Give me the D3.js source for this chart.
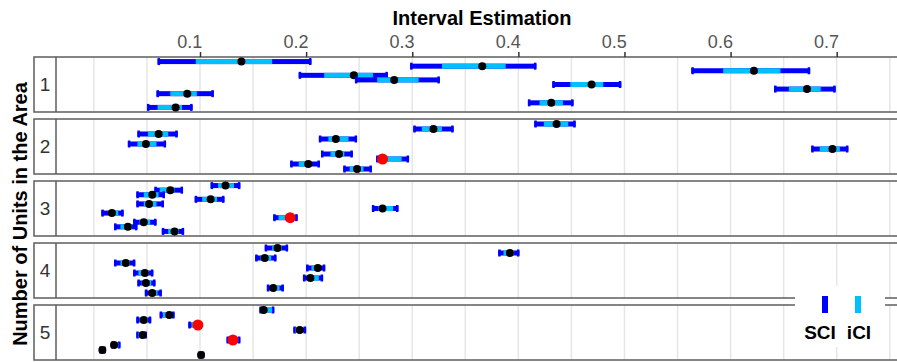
<!DOCTYPE html>
<html>
<head>
<meta charset="utf-8">
<script src="https://cdn.jsdelivr.net/npm/d3@7"></script>
<style>
  body { margin: 0; background: #fff; }
  text { font-family: "Liberation Sans", Arial, Helvetica, sans-serif; }
</style>
</head>
<body>
<script>
// number of units in the area (one panel per value) and row slots in each panel
var unitCounts = [1, 2, 3, 4, 5];
var slotsPerPanel = [11, 10, 11, 10, 10];
var tickValues = [0.1, 0.2, 0.3, 0.4, 0.5, 0.6, 0.7];
var legendLabels = ["SCI", "iCI"];

// one entry per interval
var panelOf = [1,1,1,1,1,1,1,1,1,1,
               2,2,2,2,2,2,2,2,2,2,
               3,3,3,3,3,3,3,3,3,3,3,
               4,4,4,4,4,4,4,4,4,4,
               5,5,5,5,5,5,5,5,5,5];
var rowSlot = [1,2,3,4,5,6,7,8,10,11,
               1,2,3,4,5,6,7,8,9,10,
               1,2,3,4,5,6,7,8,9,10,11,
               1,2,3,4,5,6,7,8,9,10,
               1,2,3,4,5,6,7,8,9,10];
var estimate = [0.139,0.366,0.622,0.245,0.283,0.469,0.672,0.088,0.431,0.077,
                0.436,0.320,0.061,0.228,0.049,0.696,0.231,0.272,0.202,0.248,
                0.124,0.072,0.055,0.110,0.052,0.272,0.017,0.185,0.047,0.032,0.076,
                0.173,0.392,0.161,0.030,0.211,0.048,0.204,0.049,0.169,0.055,
                0.160,0.071,0.047,0.098,0.194,0.046,0.131,0.019,0.008,0.101];
var sciLow = [0.060,0.298,0.563,0.193,0.246,0.432,0.641,0.059,0.409,0.050,
              0.415,0.301,0.041,0.212,0.032,0.676,0.214,0.266,0.185,0.235,
              0.110,0.057,0.040,0.095,0.040,0.262,0.007,0.169,0.037,0.019,0.064,
              0.161,0.381,0.152,0.019,0.200,0.037,0.197,0.041,0.163,0.048,
              0.156,0.062,0.040,0.089,0.188,0.040,0.125,0.016,0.005,0.098];
var sciHigh = [0.205,0.417,0.675,0.277,0.326,0.497,0.699,0.113,0.452,0.093,
               0.454,0.339,0.079,0.248,0.068,0.711,0.244,0.297,0.213,0.262,
               0.138,0.084,0.067,0.123,0.066,0.287,0.028,0.192,0.059,0.041,0.085,
               0.183,0.401,0.172,0.039,0.218,0.056,0.216,0.058,0.179,0.064,
               0.170,0.076,0.054,0.100,0.200,0.050,0.138,0.025,0.011,0.104];
var iciLow = [0.096,0.328,0.593,0.217,0.267,0.449,0.655,0.072,0.420,0.060,
              0.424,0.309,0.051,0.221,0.041,0.684,0.223,0.270,0.193,0.241,
              0.117,0.062,0.047,0.102,0.047,0.268,0.014,0.174,0.043,0.025,0.070,
              0.168,0.386,0.157,0.025,0.205,0.042,0.202,0.045,0.167,0.052,
              0.158,0.065,0.043,0.092,0.190,0.042,0.128,0.017,0.006,0.099];
var iciHigh = [0.168,0.388,0.647,0.263,0.306,0.480,0.685,0.097,0.442,0.083,
               0.447,0.328,0.070,0.240,0.059,0.703,0.236,0.290,0.205,0.254,
               0.132,0.076,0.061,0.116,0.059,0.282,0.023,0.182,0.053,0.036,0.080,
               0.177,0.396,0.167,0.034,0.214,0.052,0.212,0.054,0.175,0.060,
               0.168,0.073,0.051,0.098,0.197,0.048,0.136,0.023,0.010,0.102];
var flagged = [0,0,0,0,0,0,0,0,0,0,
               0,0,0,0,0,0,0,1,0,0,
               0,0,0,0,0,0,0,1,0,0,0,
               0,0,0,0,0,0,0,0,0,0,
               0,0,0,1,0,0,1,0,0,0];

var w = 897, h = 362;
var panelTop = 57, panelH = 55, panelGap = 7;
var frameLeft = 34, divider = 56;
var sciColor = "#0000ff", iciColor = "#00bfff";

var svg = d3.select("body").append("svg")
    .attr("width", w)
    .attr("height", h);

var x = d3.scaleLinear().domain([0, 0.7]).range([93.9, 836.7]);

// build the interval records from the arrays
var intervals = estimate.map(function(d, i) {
  return {panel: panelOf[i], slot: rowSlot[i], est: d,
          sLo: sciLow[i], sHi: sciHigh[i], iLo: iciLow[i], iHi: iciHigh[i],
          red: flagged[i] === 1};
});

// y scale per panel
var yScales = unitCounts.map(function(u, i) {
  var top = panelTop + i * (panelH + panelGap);
  return d3.scaleLinear().domain([0, slotsPerPanel[i] + 1]).range([top, top + panelH]);
});

var gridVals = d3.range(0, 0.76, 0.05);

unitCounts.forEach(function(u, i) {
  var top = panelTop + i * (panelH + panelGap);
  var g = svg.append("g").attr("class", "panel");

  g.selectAll("line.grid")
    .data(gridVals)
    .enter()
    .append("line")
    .attr("class", "grid")
    .attr("x1", function(d) { return x(d); })
    .attr("x2", function(d) { return x(d); })
    .attr("y1", top)
    .attr("y2", top + panelH)
    .attr("stroke", "#e6e6e6")
    .attr("stroke-width", 1.5);

  g.append("rect")
    .attr("x", frameLeft)
    .attr("y", top)
    .attr("width", 900)
    .attr("height", panelH)
    .attr("fill", "none")
    .attr("stroke", "#5e5e5e")
    .attr("stroke-width", 1.5);

  g.append("line")
    .attr("x1", divider).attr("x2", divider)
    .attr("y1", top).attr("y2", top + panelH)
    .attr("stroke", "#5e5e5e")
    .attr("stroke-width", 1.5);

  g.append("text")
    .attr("x", 45)
    .attr("y", top + panelH / 2)
    .attr("dy", "0.35em")
    .attr("text-anchor", "middle")
    .attr("font-size", 19)
    .attr("fill", "#333")
    .text(u);
});

// top axis
var axis = svg.append("g")
    .attr("transform", "translate(0," + panelTop + ")")
    .call(d3.axisTop(x).tickValues(tickValues).tickFormat(d3.format(".1f"))
          .tickSize(5).tickPadding(4));
axis.select(".domain").remove();
axis.selectAll(".tick line").attr("stroke", "#333").attr("stroke-width", 1.5);
axis.selectAll(".tick text")
    .attr("font-family", "Liberation Sans, Arial, sans-serif")
    .attr("font-size", 18)
    .attr("fill", "#555")
    .attr("text-anchor", "end")
    .attr("dx", "0.1em");

// intervals
var marks = svg.selectAll("g.interval")
    .data(intervals)
    .enter()
    .append("g")
    .attr("class", "interval")
    .attr("transform", function(d) {
      return "translate(0," + yScales[d.panel - 1](d.slot) + ")";
    });

marks.append("rect")
    .attr("x", function(d) { return x(d.sLo); })
    .attr("y", -2.5)
    .attr("width", function(d) { return x(d.sHi) - x(d.sLo); })
    .attr("height", 5)
    .attr("fill", sciColor);

marks.selectAll("rect.cap")
    .data(function(d) { return [d.sLo, d.sHi]; })
    .enter()
    .append("rect")
    .attr("class", "cap")
    .attr("x", function(v, j) { return j === 0 ? x(v) : x(v) - 2.5; })
    .attr("y", -3.5)
    .attr("width", 2.5)
    .attr("height", 7)
    .attr("fill", sciColor);

marks.append("rect")
    .attr("x", function(d) { return x(d.iLo); })
    .attr("y", -2.5)
    .attr("width", function(d) { return x(d.iHi) - x(d.iLo); })
    .attr("height", 5)
    .attr("fill", iciColor);

marks.append("circle")
    .attr("cx", function(d) { return x(d.est); })
    .attr("cy", 0)
    .attr("r", function(d) { return d.red ? 5.5 : 4; })
    .attr("fill", function(d) { return d.red ? "#ff0000" : "#000"; });

// titles
svg.append("text")
    .attr("x", 482)
    .attr("y", 25)
    .attr("text-anchor", "middle")
    .attr("font-size", 20)
    .attr("font-weight", "bold")
    .text("Interval Estimation");

svg.append("text")
    .attr("transform", "translate(27,214) rotate(-90)")
    .attr("text-anchor", "middle")
    .attr("font-size", 20)
    .attr("font-weight", "bold")
    .text("Number of Units in the Area");

// legend
var legend = svg.append("g");
legend.append("rect")
    .attr("x", 795).attr("y", 286)
    .attr("width", 90).attr("height", 61)
    .attr("fill", "#fff");

var legendX = [825, 858];
var legendColors = [sciColor, iciColor];
legendLabels.forEach(function(lab, i) {
  legend.append("rect")
      .attr("x", legendX[i] - 3)
      .attr("y", 296)
      .attr("width", 6)
      .attr("height", 17)
      .attr("fill", legendColors[i]);
  legend.append("text")
      .attr("x", legendX[i] + (i === 0 ? -5 : 1))
      .attr("y", 339)
      .attr("text-anchor", "middle")
      .attr("font-size", 19)
      .attr("font-weight", "bold")
      .text(lab);
});
</script>
</body>
</html>
